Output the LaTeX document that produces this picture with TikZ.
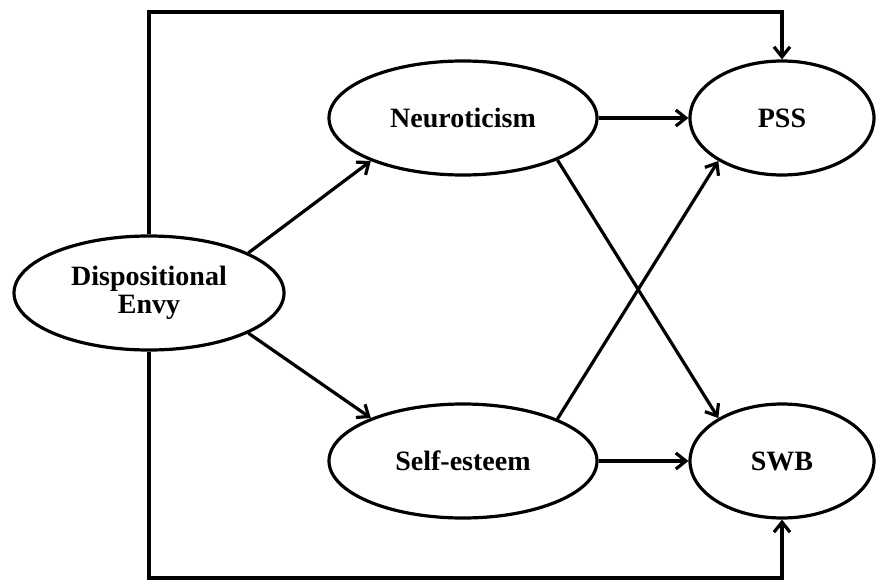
\documentclass[tikz,border=0pt]{standalone}
\usepackage{fontspec}
\setmainfont{Liberation Serif}
\usetikzlibrary{shapes.geometric,arrows.meta}

\tikzset{
    latent/.style={ellipse, draw, line width=3.2pt, inner sep=0pt,
        minimum height=114pt, font=\fontsize{28}{28}\selectfont\bfseries, align=center},
    path/.style={line width=3.2pt, -{Straight Barb[length=10pt,width=16pt]}}
}

\begin{document}
\begin{tikzpicture}[x=1pt, y=-1pt]
    \useasboundingbox (0,0) rectangle (876,581);
    % latent variables
    \node[latent, minimum width=270pt] (envy) at (149,293) {Dispositional\\Envy};
    \node[latent, minimum width=268pt] (neuro) at (463,118) {Neuroticism};
    \node[latent, minimum width=184pt] (pss) at (782,118) {PSS};
    \node[latent, minimum width=268pt] (self) at (463,461) {Self-esteem};
    \node[latent, minimum width=184pt] (swb) at (782,461) {SWB};
    \coordinate (top) at (0,12);
    \coordinate (bottom) at (0,578);

    % paths
    \draw[path] (envy.22) -- (neuro.205);
    \draw[path] (envy.338) -- (self.155);
    \draw[path] (neuro.east) -- (pss.west);
    \draw[path] (self.east) -- (swb.west);
    \draw[path] (neuro.336) -- (swb.146);
    \draw[path] (self.24) -- (pss.214);
    \draw[path] (envy.north) -- (envy.north |- top) -| (pss.north);
    \draw[path] (envy.south) -- (envy.south |- bottom) -| (swb.south);
\end{tikzpicture}
\end{document}
